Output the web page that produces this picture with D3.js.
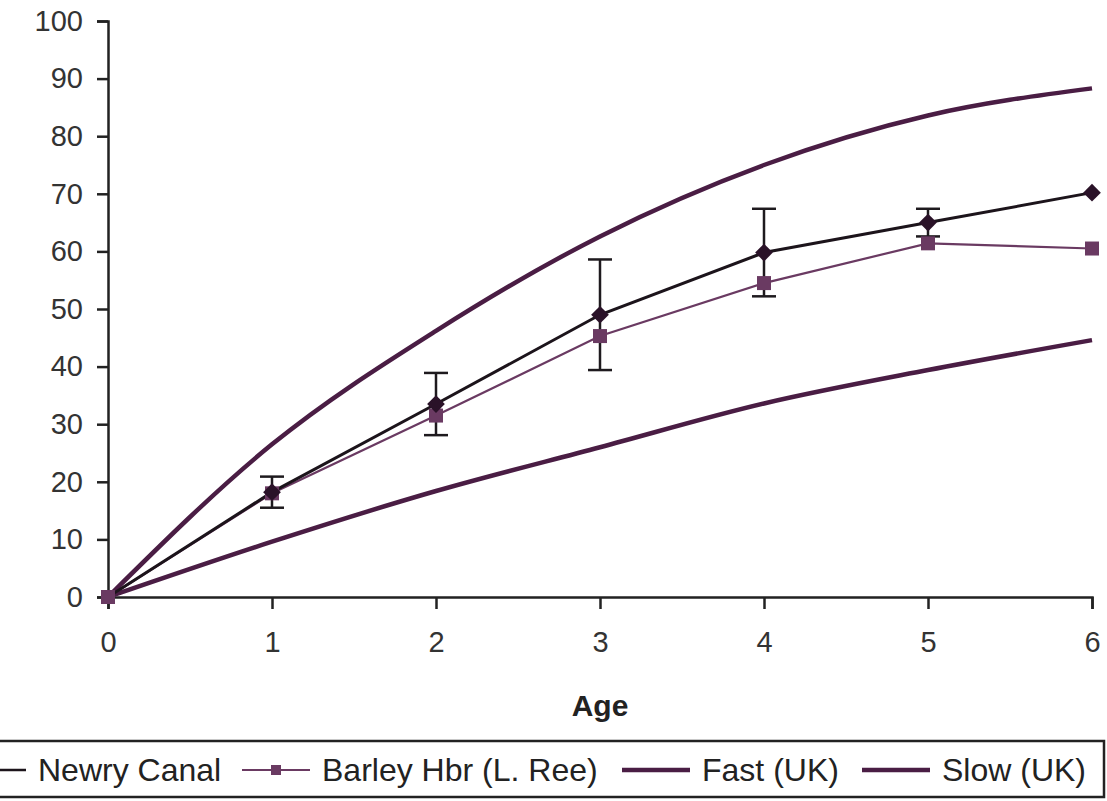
<!DOCTYPE html>
<html lang="en">
<head>
<meta charset="utf-8">
<script src="https://d3js.org/d3.v7.min.js"></script>
<style>
  body { margin: 0; background: #fff; }
  svg { display: block; font-family: Arial, "Liberation Sans", sans-serif; }
</style>
</head>
<body>
<script>
// data
var ages = [0, 1, 2, 3, 4, 5, 6];
var newry = [0, 18.2, 33.5, 49.0, 59.8, 65.0, 70.2];
var newryErr = [0, 2.7, 5.4, 9.6, 7.6, 2.4, 0];
var barley = [0, 18.0, 31.5, 45.3, 54.5, 61.4, 60.5];
var fast = [0, 26.5, 46.2, 62.6, 75.0, 83.6, 88.3];
var slow = [0, 9.6, 18.4, 26.0, 33.6, 39.4, 44.6];
var yTicks = [0, 10, 20, 30, 40, 50, 60, 70, 80, 90, 100];
var seriesNames = ["Newry Canal", "Barley Hbr (L. Ree)", "Fast (UK)", "Slow (UK)"];

var w = 1107, h = 801;
var curveCol = "#4a1d44";
var barleyCol = "#6a3a62";
var newryCol = "#1c141b";

var svg = d3.select("body").append("svg")
  .attr("width", w).attr("height", h);

var x = d3.scaleLinear().domain([0, 6]).range([108, 1092]);
var y = d3.scaleLinear().domain([0, 100]).range([597, 21]);

// axes
var yAxis = svg.append("g")
  .attr("transform", "translate(108,0)")
  .call(d3.axisLeft(y).tickValues(yTicks).tickFormat(d3.format("d")).tickSize(11).tickPadding(14));
var xAxis = svg.append("g")
  .attr("transform", "translate(0,597)")
  .call(d3.axisBottom(x).tickValues(ages).tickFormat(d3.format("d")).tickSize(12).tickPadding(22));

[yAxis, xAxis].forEach(function(a){
  a.select(".domain").attr("stroke", "#222").attr("stroke-width", 2.5);
  a.selectAll(".tick line").attr("stroke", "#222").attr("stroke-width", 2.5);
  a.selectAll(".tick text").attr("fill", "#333").style("font-size", "29px");
});

svg.append("text")
  .attr("x", 600).attr("y", 716)
  .attr("text-anchor", "middle")
  .style("font-size", "30px").style("font-weight", "bold")
  .attr("fill", "#222")
  .text("Age");

function pts(vals){ return ages.map(function(a, i){ return [a, vals[i]]; }); }

var smooth = d3.line().x(function(d){ return x(d[0]); }).y(function(d){ return y(d[1]); })
  .curve(d3.curveMonotoneX);
var straight = d3.line().x(function(d){ return x(d[0]); }).y(function(d){ return y(d[1]); });

// growth curves
svg.append("path").attr("d", smooth(pts(fast)))
  .attr("fill", "none").attr("stroke", curveCol).attr("stroke-width", 4.5);
svg.append("path").attr("d", smooth(pts(slow)))
  .attr("fill", "none").attr("stroke", curveCol).attr("stroke-width", 4.5);

// barley hbr
svg.append("path").attr("d", straight(pts(barley)))
  .attr("fill", "none").attr("stroke", barleyCol).attr("stroke-width", 2.2);

// newry canal
svg.append("path").attr("d", straight(pts(newry)))
  .attr("fill", "none").attr("stroke", newryCol).attr("stroke-width", 3);

// error bars on newry
var eb = svg.append("g");
ages.forEach(function(a, i){
  if (!newryErr[i]) return;
  var cx = x(a), t = y(newry[i] + newryErr[i]), b = y(newry[i] - newryErr[i]);
  eb.append("line").attr("x1", cx).attr("x2", cx).attr("y1", t).attr("y2", b);
  eb.append("line").attr("x1", cx - 12).attr("x2", cx + 12).attr("y1", t).attr("y2", t);
  eb.append("line").attr("x1", cx - 12).attr("x2", cx + 12).attr("y1", b).attr("y2", b);
});
eb.selectAll("line").attr("stroke", "#1e1a1e").attr("stroke-width", 2.5);

// markers
svg.selectAll(".sq").data(pts(barley)).enter().append("rect")
  .attr("class", "sq")
  .attr("x", function(d){ return x(d[0]) - 7; })
  .attr("y", function(d){ return y(d[1]) - 7; })
  .attr("width", 14).attr("height", 14)
  .attr("fill", barleyCol);

svg.selectAll(".dm").data(pts(newry).slice(1)).enter().append("path")
  .attr("class", "dm")
  .attr("d", d3.symbol().type(d3.symbolDiamond2).size(200))
  .attr("transform", function(d){ return "translate(" + x(d[0]) + "," + y(d[1]) + ")"; })
  .attr("fill", "#2a1228");

// legend (left end runs off the page, as in the original)
svg.append("rect")
  .attr("x", -10).attr("y", 741).attr("width", 1114).attr("height", 56)
  .attr("fill", "none").attr("stroke", "#222").attr("stroke-width", 2.5);

var legendX = [-42, 242, 622, 862];
var legend = svg.append("g").attr("transform", "translate(0,770)");
seriesNames.forEach(function(name, i){
  var lx = legendX[i];
  var col = i === 0 ? newryCol : (i === 1 ? barleyCol : curveCol);
  var sw = i === 0 ? 2.5 : (i === 1 ? 2 : 4.5);
  legend.append("line")
    .attr("x1", lx).attr("x2", lx + 68).attr("y1", 0).attr("y2", 0)
    .attr("stroke", col).attr("stroke-width", sw);
  if (i === 0) {
    legend.append("path").attr("d", d3.symbol().type(d3.symbolDiamond2).size(100))
      .attr("transform", "translate(" + (lx + 34) + ",0)").attr("fill", "#2a1228");
  }
  if (i === 1) {
    legend.append("rect").attr("x", lx + 29).attr("y", -5).attr("width", 10).attr("height", 10)
      .attr("fill", barleyCol);
  }
  legend.append("text")
    .attr("x", lx + 80).attr("y", 11)
    .style("font-size", "32px").attr("fill", "#222")
    .text(name);
});
</script>
</body>
</html>
